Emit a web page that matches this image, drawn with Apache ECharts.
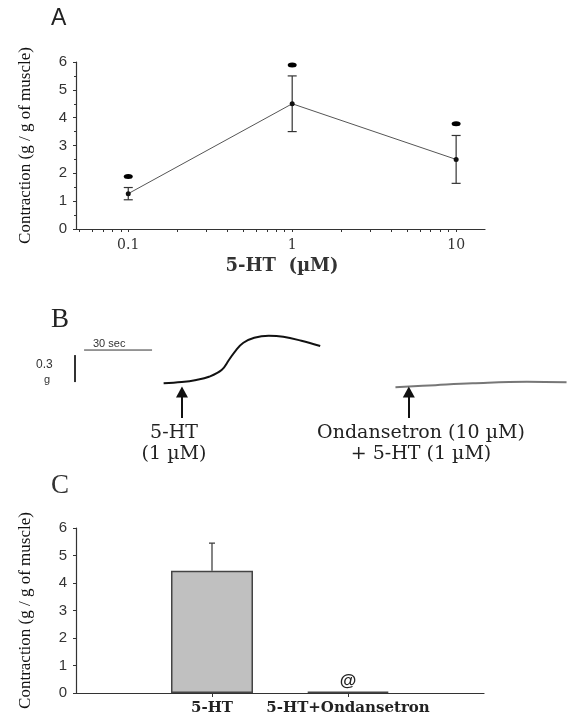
<!DOCTYPE html>
<html>
<head>
<meta charset="utf-8">
<script src="https://cdn.jsdelivr.net/npm/echarts@6/dist/echarts.min.js"></script>
<style>
  html, body { margin: 0; padding: 0; background: #fff; }
  #chart { width: 567px; height: 720px; }
</style>
</head>
<body>
<div id="chart"></div>
<script>
// panel A: dose response
const doses = [0.1, 1, 10]
const meanA = [1.27, 4.5, 2.5]
const semA = [0.22, 1.0, 0.86]
const starA = [1.89, 5.89, 3.78]
const doseLabels = [0.1, 1, 10]
const doseTicks = [0.05, 0.06, 0.07, 0.08, 0.09, 0.1, 0.2, 0.3, 0.4, 0.5, 0.6, 0.7, 0.8, 0.9,
  1, 2, 3, 4, 5, 6, 7, 8, 9, 10]

// panel B: tension traces (seconds, grams above baseline)
const trace1Time = [0, 8.0, 14.4, 20.0, 25.6, 28.8, 32.0, 35.2, 40.0, 46.4, 52.8, 60.8, 69.1]
const trace1Tension = [0, 0.014, 0.037, 0.073, 0.148, 0.259, 0.37, 0.451, 0.507, 0.529, 0.518, 0.473, 0.414]
const trace2Time = [102.3, 120, 136.3, 160.3, 177.8]
const trace2Tension = [-0.044, -0.02, 0, 0.018, 0.011]
const timeBar = [-35.1, -5.1]   // 30 sec
const timeBarLevel = 0.37
const gramBar = [0.014, 0.314]  // 0.3 g
const gramBarTime = -39.1
const arrowTimes = [8.1, 108.2]
const arrowRange = [-0.386, -0.097]

// panel C: bars
const groupsC = ['', '5-HT', '5-HT+Ondansetron', '']
const meanC = [null, 4.45, 0.05, null]
const semC = [null, 1.0, 0, null]

const node = document.getElementById('chart')
const myChart = echarts.init(node)

const serif = 'Liberation Serif'
const wide = 'DejaVu Serif'
const sans = 'Liberation Sans'

// error bars drawn through the axis scales
const errorBars = (capHalf, upperOnly) => (params, api) => {
  const x = api.value(0)
  const y = api.value(1)
  const e = api.value(2)
  const hi = api.coord([x, y + e])
  const lo = api.coord([x, upperOnly ? y : y - e])
  const style = { stroke: '#333', lineWidth: 1.2 }
  return {
    type: 'group',
    children: [
      { type: 'line', shape: { x1: hi[0], y1: hi[1], x2: lo[0], y2: lo[1] }, style },
      { type: 'line', shape: { x1: hi[0] - capHalf, y1: hi[1], x2: hi[0] + capHalf, y2: hi[1] }, style },
      upperOnly ? null : { type: 'line', shape: { x1: lo[0] - capHalf, y1: lo[1], x2: lo[0] + capHalf, y2: lo[1] }, style }
    ].filter(Boolean)
  }
}

const yTitle = {
  name: 'Contraction (g / g of muscle)',
  nameLocation: 'middle',
  nameGap: 42,
  nameTextStyle: { fontFamily: serif, fontSize: 17, color: '#111' }
}

myChart.setOption({
  animation: false,
  graphic: [
    { type: 'text', left: 51, top: 7, style: { text: 'A', font: '23px ' + sans, fill: '#222' } },
    { type: 'text', x: 282, y: 257, style: { text: '5-HT  (\u00b5M)', font: 'bold 18px ' + wide, fill: '#333', align: 'center' } },
    { type: 'text', left: 51, top: 306, style: { text: 'B', font: '27px ' + serif, fill: '#222' } },
    { type: 'text', left: 93, top: 338, style: { text: '30 sec', font: '11px ' + sans, fill: '#333' } },
    { type: 'text', left: 36, top: 359, style: { text: '0.3', font: '12px ' + sans, fill: '#333' } },
    { type: 'text', left: 44, top: 374, style: { text: 'g', font: '11px ' + sans, fill: '#333' } },
    { type: 'text', x: 174, y: 423, style: { text: '5-HT\n(1 \u00b5M)', font: '19px ' + wide, fill: '#222', align: 'center', lineHeight: 21 } },
    { type: 'text', x: 421, y: 423, style: { text: 'Ondansetron (10 \u00b5M)\n+ 5-HT (1 \u00b5M)', font: '19px ' + wide, fill: '#222', align: 'center', lineHeight: 21 } },
    { type: 'text', left: 51, top: 472, style: { text: 'C', font: '27px ' + serif, fill: '#333' } }
  ],
  grid: [
    { left: 76, right: 82, top: 62, height: 167 },
    { left: 0, right: 0, top: 300, height: 170 },
    { left: 76, right: 83, top: 528, height: 165 }
  ],
  xAxis: [
    {
      gridIndex: 0, type: 'log', logBase: 10, min: 0.048, max: 15,
      axisLine: { lineStyle: { color: '#333', width: 1.2 } },
      axisTick: { customValues: doseTicks, length: 3, lineStyle: { color: '#333' } },
      axisLabel: { customValues: doseLabels, fontFamily: wide, fontSize: 14, color: '#333', margin: 9 },
      splitLine: { show: false }
    },
    {
      gridIndex: 1, type: 'value', min: -72.2, max: 178.0, show: false
    },
    {
      gridIndex: 2, type: 'category', data: groupsC, boundaryGap: false,
      axisLine: { lineStyle: { color: '#333', width: 1.2 } },
      axisTick: { length: 4, interval: (i) => i === 1 || i === 2, lineStyle: { color: '#333' } },
      axisLabel: { interval: 0, fontFamily: wide, fontWeight: 'bold', fontSize: 15, color: '#222', margin: 8 }
    }
  ],
  yAxis: [
    Object.assign({
      gridIndex: 0, type: 'value', min: 0, max: 6, interval: 1,
      axisLine: { show: true, lineStyle: { color: '#333', width: 1.2 } },
      axisTick: { show: true, length: 3, lineStyle: { color: '#333' } },
      minorTick: { show: true, splitNumber: 2, length: 2, lineStyle: { color: '#333' } },
      axisLabel: { fontFamily: sans, fontSize: 15, color: '#333', margin: 9 },
      splitLine: { show: false }
    }, yTitle),
    {
      gridIndex: 1, type: 'value', min: -0.963, max: 0.926, show: false
    },
    Object.assign({
      gridIndex: 2, type: 'value', min: 0, max: 6, interval: 1,
      axisLine: { show: true, lineStyle: { color: '#333', width: 1.2 } },
      axisTick: { show: true, length: 3, lineStyle: { color: '#333' } },
      axisLabel: { fontFamily: sans, fontSize: 15, color: '#333', margin: 9 },
      splitLine: { show: false }
    }, yTitle)
  ],
  series: [
    // A
    {
      type: 'line', xAxisIndex: 0, yAxisIndex: 0,
      data: doses.map((d, i) => [d, meanA[i]]),
      symbol: 'circle', symbolSize: 5,
      itemStyle: { color: '#111' },
      lineStyle: { color: '#555', width: 1 }
    },
    {
      type: 'custom', xAxisIndex: 0, yAxisIndex: 0,
      data: doses.map((d, i) => [d, meanA[i], semA[i]]),
      renderItem: errorBars(4.5, false), z: 3
    },
    {
      type: 'scatter', xAxisIndex: 0, yAxisIndex: 0,
      data: doses.map((d, i) => [d, starA[i]]),
      symbol: 'circle', symbolSize: [9, 5],
      itemStyle: { color: '#000', opacity: 1 }
    },
    // B
    {
      type: 'line', xAxisIndex: 1, yAxisIndex: 1, smooth: 0.4, symbol: 'none',
      data: trace1Time.map((t, i) => [t, trace1Tension[i]]),
      lineStyle: { color: '#111', width: 2 }
    },
    {
      type: 'line', xAxisIndex: 1, yAxisIndex: 1, smooth: 0.4, symbol: 'none',
      data: trace2Time.map((t, i) => [t, trace2Tension[i]]),
      lineStyle: { color: '#777', width: 2 }
    },
    {
      type: 'line', xAxisIndex: 1, yAxisIndex: 1, symbol: 'none',
      data: timeBar.map((t) => [t, timeBarLevel]),
      lineStyle: { color: '#333', width: 1 }
    },
    {
      type: 'line', xAxisIndex: 1, yAxisIndex: 1, symbol: 'none',
      data: gramBar.map((g) => [gramBarTime, g]),
      lineStyle: { color: '#333', width: 2 }
    },
    {
      type: 'scatter', xAxisIndex: 1, yAxisIndex: 1, data: [], silent: true,
      markLine: {
        silent: true,
        symbol: ['none', 'triangle'],
        symbolSize: [12, 11],
        label: { show: false },
        lineStyle: { color: '#111', width: 2, type: 'solid' },
        data: arrowTimes.map((t) => [{ coord: [t, arrowRange[0]] }, { coord: [t, arrowRange[1]] }])
      }
    },
    // C
    {
      type: 'bar', xAxisIndex: 2, yAxisIndex: 2,
      data: meanC, barWidth: 82,
      itemStyle: { color: '#c0c0c0', borderColor: '#444', borderWidth: 1.5 },
      label: {
        show: true, position: 'top', distance: 2,
        formatter: (p) => (p.dataIndex === 2 ? '@' : ''),
        fontFamily: sans, fontWeight: 'bold', fontSize: 17, color: '#222'
      }
    },
    {
      type: 'custom', xAxisIndex: 2, yAxisIndex: 2,
      data: [[1, meanC[1], semC[1]]],
      renderItem: errorBars(3, true), z: 3
    }
  ]
})
</script>
</body>
</html>
